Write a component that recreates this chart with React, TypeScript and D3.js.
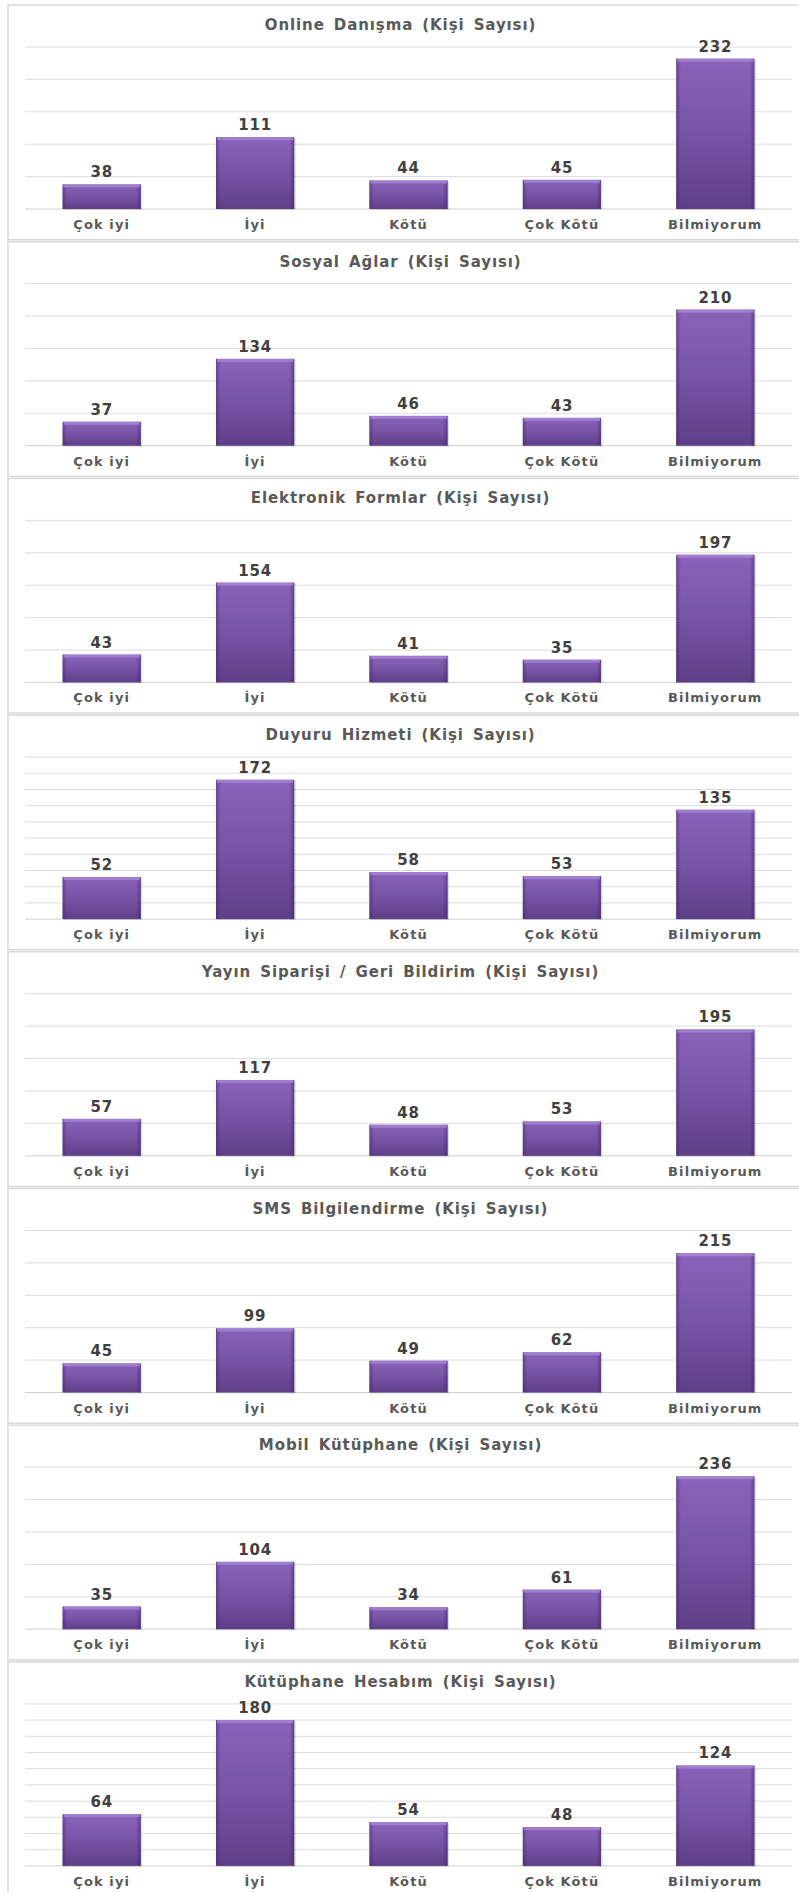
import React from "react";
import * as d3 from "d3";

const categories = ["Çok iyi", "İyi", "Kötü", "Çok Kötü", "Bilmiyorum"];

const titles = [
  "Online Danışma (Kişi Sayısı)",
  "Sosyal Ağlar (Kişi Sayısı)",
  "Elektronik Formlar (Kişi Sayısı)",
  "Duyuru Hizmeti (Kişi Sayısı)",
  "Yayın Siparişi / Geri Bildirim (Kişi Sayısı)",
  "SMS Bilgilendirme (Kişi Sayısı)",
  "Mobil Kütüphane (Kişi Sayısı)",
  "Kütüphane Hesabım (Kişi Sayısı)",
];

const onlineDanisma = [38, 111, 44, 45, 232];
const sosyalAglar = [37, 134, 46, 43, 210];
const elektronikFormlar = [43, 154, 41, 35, 197];
const duyuruHizmeti = [52, 172, 58, 53, 135];
const yayinSiparisi = [57, 117, 48, 53, 195];
const smsBilgilendirme = [45, 99, 49, 62, 215];
const mobilKutuphane = [35, 104, 34, 61, 236];
const kutuphaneHesabim = [64, 180, 54, 48, 124];

const seriesList = [
  onlineDanisma,
  sosyalAglar,
  elektronikFormlar,
  duyuruHizmeti,
  yayinSiparisi,
  smsBilgilendirme,
  mobilKutuphane,
  kutuphaneHesabim,
];

const axisMax = [250, 250, 250, 200, 250, 250, 250, 200];
const tickStep = [50, 50, 50, 20, 50, 50, 50, 20];

const W = 799;
const H = 1892;
const PANEL_TOP0 = 5;
const PANEL_STEP = 236.7;
const PLOT_TOP = 42;
const PLOT_BOTTOM = 204;
const PLOT_LEFT = 25;
const PLOT_RIGHT = 792;

const x = d3
  .scaleBand<string>()
  .domain(categories)
  .range([PLOT_LEFT, PLOT_RIGHT])
  .paddingInner(0.49)
  .paddingOuter(0.245);

function Panel({ idx }: { idx: number }) {
  const T = PANEL_TOP0 + idx * PANEL_STEP;
  const values = seriesList[idx];
  const y = d3
    .scaleLinear()
    .domain([0, axisMax[idx]])
    .range([T + PLOT_BOTTOM, T + PLOT_TOP]);
  const ticks = d3.range(0, axisMax[idx] + 0.001, tickStep[idx]);
  const bw = x.bandwidth();
  return (
    <g>
      <rect
        x={8}
        y={T}
        width={W - 8 + 2}
        height={PANEL_STEP - 2}
        fill="#ffffff"
        stroke="#d9d9d9"
        strokeWidth={1.5}
      />
      <text
        x={W / 2 + 1}
        y={T + 25}
        textAnchor="middle"
        fontFamily="DejaVu Sans, Verdana, sans-serif"
        fontWeight="bold"
        fontSize={15}
        letterSpacing={0.9}
        wordSpacing={3}
        fill="#595959"
      >
        {titles[idx]}
      </text>
      {ticks.map((t) => (
        <line
          key={t}
          x1={PLOT_LEFT}
          x2={PLOT_RIGHT}
          y1={y(t)}
          y2={y(t)}
          stroke={t === 0 ? "#d0d0d0" : "#dcdcdc"}
          strokeWidth={1}
        />
      ))}
      {values.map((v, i) => {
        const bx = x(categories[i]) as number;
        const by = y(v);
        const bh = y(0) - by;
        return (
          <g key={i}>
            <rect x={bx + 1.5} y={by + 1} width={bw} height={bh} fill="#000" opacity={0.12} />
            <rect x={bx} y={by} width={bw} height={bh} fill="url(#barV)" />
            <rect x={bx} y={by} width={bw} height={bh} fill="url(#barH)" />
            <rect x={bx + 1} y={by} width={bw - 2} height={Math.min(3, bh)} fill="#a584d2" opacity={0.85} />
            <text
              x={bx + bw / 2}
              y={by - 7}
              textAnchor="middle"
              fontFamily="DejaVu Sans, Verdana, sans-serif"
              fontWeight="bold"
              fontSize={15}
              letterSpacing={0.8}
              fill="#404040"
            >
              {v}
            </text>
          </g>
        );
      })}
      {categories.map((c) => (
        <text
          key={c}
          x={(x(c) as number) + bw / 2}
          y={T + PLOT_BOTTOM + 20}
          textAnchor="middle"
          fontFamily="DejaVu Sans, Verdana, sans-serif"
          fontWeight="bold"
          fontSize={13}
          letterSpacing={1.1}
          fill="#595959"
        >
          {c}
        </text>
      ))}
    </g>
  );
}

export default function App() {
  return (
    <svg
      width={W}
      height={H}
      viewBox={`0 0 ${W} ${H}`}
      style={{ position: "absolute", left: 0, top: 0, background: "#fff" }}
    >
      <defs>
        <linearGradient id="barV" x1="0" y1="0" x2="0" y2="1">
          <stop offset="0%" stopColor="#8a63ba" />
          <stop offset="50%" stopColor="#7754a6" />
          <stop offset="100%" stopColor="#5e3f88" />
        </linearGradient>
        <linearGradient id="barH" x1="0" y1="0" x2="1" y2="0">
          <stop offset="0%" stopColor="#3a2260" stopOpacity={0.45} />
          <stop offset="6%" stopColor="#3a2260" stopOpacity={0} />
          <stop offset="94%" stopColor="#3a2260" stopOpacity={0} />
          <stop offset="100%" stopColor="#3a2260" stopOpacity={0.5} />
        </linearGradient>
      </defs>
      <rect x={0} y={0} width={W} height={H} fill="#ffffff" />
      {seriesList.map((_, i) => (
        <Panel key={i} idx={i} />
      ))}
    </svg>
  );
}
